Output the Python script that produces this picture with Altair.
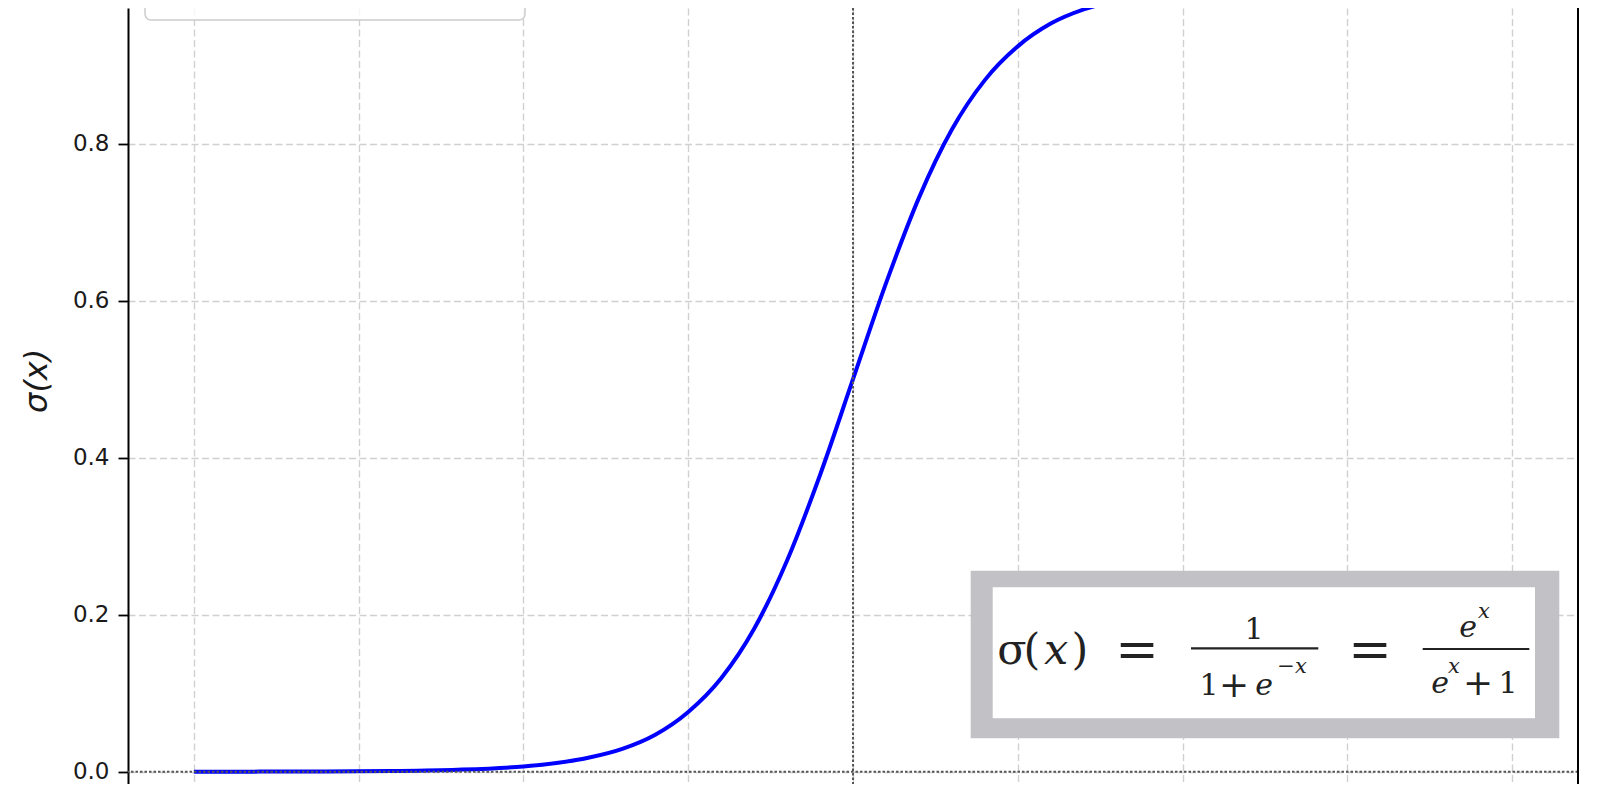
import altair as alt
import pandas as pd

# ---- data ----
x_vals = [-10, -9, -8, -7, -6, -5, -4.5, -4, -3.5, -3, -2.5, -2, -1.5, -1, -0.5,
          0, 0.5, 1, 1.5, 2, 2.5, 3, 3.5, 4, 4.5, 5, 6, 7, 8, 9, 10]
sigma_vals = [0.0000, 0.0001, 0.0003, 0.0009, 0.0025, 0.0067, 0.011, 0.018, 0.029,
              0.047, 0.076, 0.119, 0.182, 0.269, 0.378, 0.500, 0.622, 0.731, 0.818,
              0.881, 0.924, 0.953, 0.971, 0.982, 0.989, 0.993, 0.998, 0.999, 1.000,
              1.000, 1.000]
y_ticks = [0.0, 0.2, 0.4, 0.6, 0.8]
x_ticks = [-10, -7.5, -5, -2.5, 0, 2.5, 5, 7.5, 10]
legend_label = "Sigmoid Function"
y_title = "σ(x)"

df = pd.DataFrame({"x": x_vals, "y": sigma_vals})
one = pd.DataFrame({"v": [0]})

W, H = 1450, 776
OX, OY = 128, 8  # page position of plot origin
xs = alt.Scale(domain=[-11, 11], nice=False, zero=False)
ys = alt.Scale(domain=[-0.01567, 0.97287], nice=False, zero=False)

GRID = dict(gridDash=[7, 3.5], gridColor="#d0d0d0", gridWidth=1.4)

line = alt.Chart(df).mark_line(
    color="#0000ff", strokeWidth=4, interpolate="monotone", clip=True
).encode(
    x=alt.X("x:Q", scale=xs,
            axis=alt.Axis(values=x_ticks, grid=True, labels=False, ticks=False,
                          domain=False, title=None, **GRID)),
    y=alt.Y("y:Q", scale=ys,
            axis=alt.Axis(values=y_ticks, format=".1f", title=None,
                          labelFont="DejaVu Sans", labelFontSize=23,
                          labelColor="#1a1a1a", tickSize=10, tickColor="black",
                          tickWidth=1.8, labelPadding=9, domain=True,
                          domainColor="black", domainWidth=2, grid=True, **GRID)),
)

hline = alt.Chart(one).mark_rule(color="#555555", strokeDash=[2.5, 2], strokeWidth=2).encode(
    y=alt.datum(0))
vline = alt.Chart(one).mark_rule(color="#555555", strokeDash=[2.5, 2], strokeWidth=2).encode(
    x=alt.datum(0))
right_spine = alt.Chart(one).mark_rule(color="black", strokeWidth=2).encode(
    x=alt.datum(11))

legend_box = alt.Chart(one).mark_rect(
    fill="white", fillOpacity=0.8, stroke="#cccccc", strokeWidth=1.5,
    cornerRadius=6, clip=True
).encode(x=alt.value(17), x2=alt.value(397), y=alt.value(-40), y2=alt.value(12))
legend_text = alt.Chart(one).mark_text(
    text=legend_label, font="DejaVu Sans", fontSize=30, align="left",
    baseline="alphabetic", color="black", clip=True
).encode(x=alt.value(119), y=alt.value(-6))

ytitle = alt.Chart(one).mark_text(
    text=y_title, angle=270, font="DejaVu Sans", fontStyle="italic", fontSize=32,
    align="center", baseline="middle", color="#1a1a1a"
).encode(x=alt.value(36.5 - OX), y=alt.value(380.8 - OY))

# formula box
box_outer = alt.Chart(one).mark_rect(fill="#c1c1c6").encode(
    x=alt.value(970.7 - OX), x2=alt.value(1559.3 - OX),
    y=alt.value(570.7 - OY), y2=alt.value(738.3 - OY))
box_inner = alt.Chart(one).mark_rect(fill="white").encode(
    x=alt.value(992.7 - OX), x2=alt.value(1535 - OX),
    y=alt.value(587.3 - OY), y2=alt.value(718.3 - OY))

FONT = "DejaVu Serif"
INK = "#222222"


def txt(s, cx, base, size, italic=False):
    return alt.Chart(one).mark_text(
        text=s, font=FONT, fontSize=size,
        fontStyle="italic" if italic else "normal",
        align="center", baseline="alphabetic", color=INK
    ).encode(x=alt.value(cx - OX), y=alt.value(base - OY))


def bar(x1, x2, y):
    return alt.Chart(one).mark_rule(color=INK, strokeWidth=2.2).encode(
        x=alt.value(x1 - OX), x2=alt.value(x2 - OX), y=alt.value(y - OY))


formula = [
    txt("σ", 1012, 664, 43),
    txt("(", 1032, 664, 43),
    txt("x", 1056, 664, 43, True),
    txt(")", 1080, 664, 43),
    txt("=", 1137, 667, 52),
    bar(1191, 1318.3, 648.3),
    txt("1", 1254, 638.5, 30),
    txt("1", 1209, 695, 30),
    txt("+", 1234, 697, 36),
    txt("e", 1264, 695, 30, True),
    txt("−x", 1292, 673, 21, True),
    txt("=", 1370, 667, 52),
    bar(1422.7, 1529.3, 649),
    txt("e", 1468, 637, 30, True),
    txt("x", 1484, 618, 21, True),
    txt("e", 1440, 693, 30, True),
    txt("x", 1454, 673, 21, True),
    txt("+", 1478, 695, 36),
    txt("1", 1508, 693, 30),
]

chart = alt.layer(
    line, hline, vline, right_spine, legend_box, legend_text, ytitle,
    box_outer, box_inner, *formula
).properties(
    width=W, height=H,
    autosize=alt.AutoSizeParams(type="none"),
    padding={"left": 120, "top": 0, "right": 10, "bottom": 0},
).configure_view(stroke=None)

chart.save("out.html", embed_options={"renderer": "svg", "actions": False})
